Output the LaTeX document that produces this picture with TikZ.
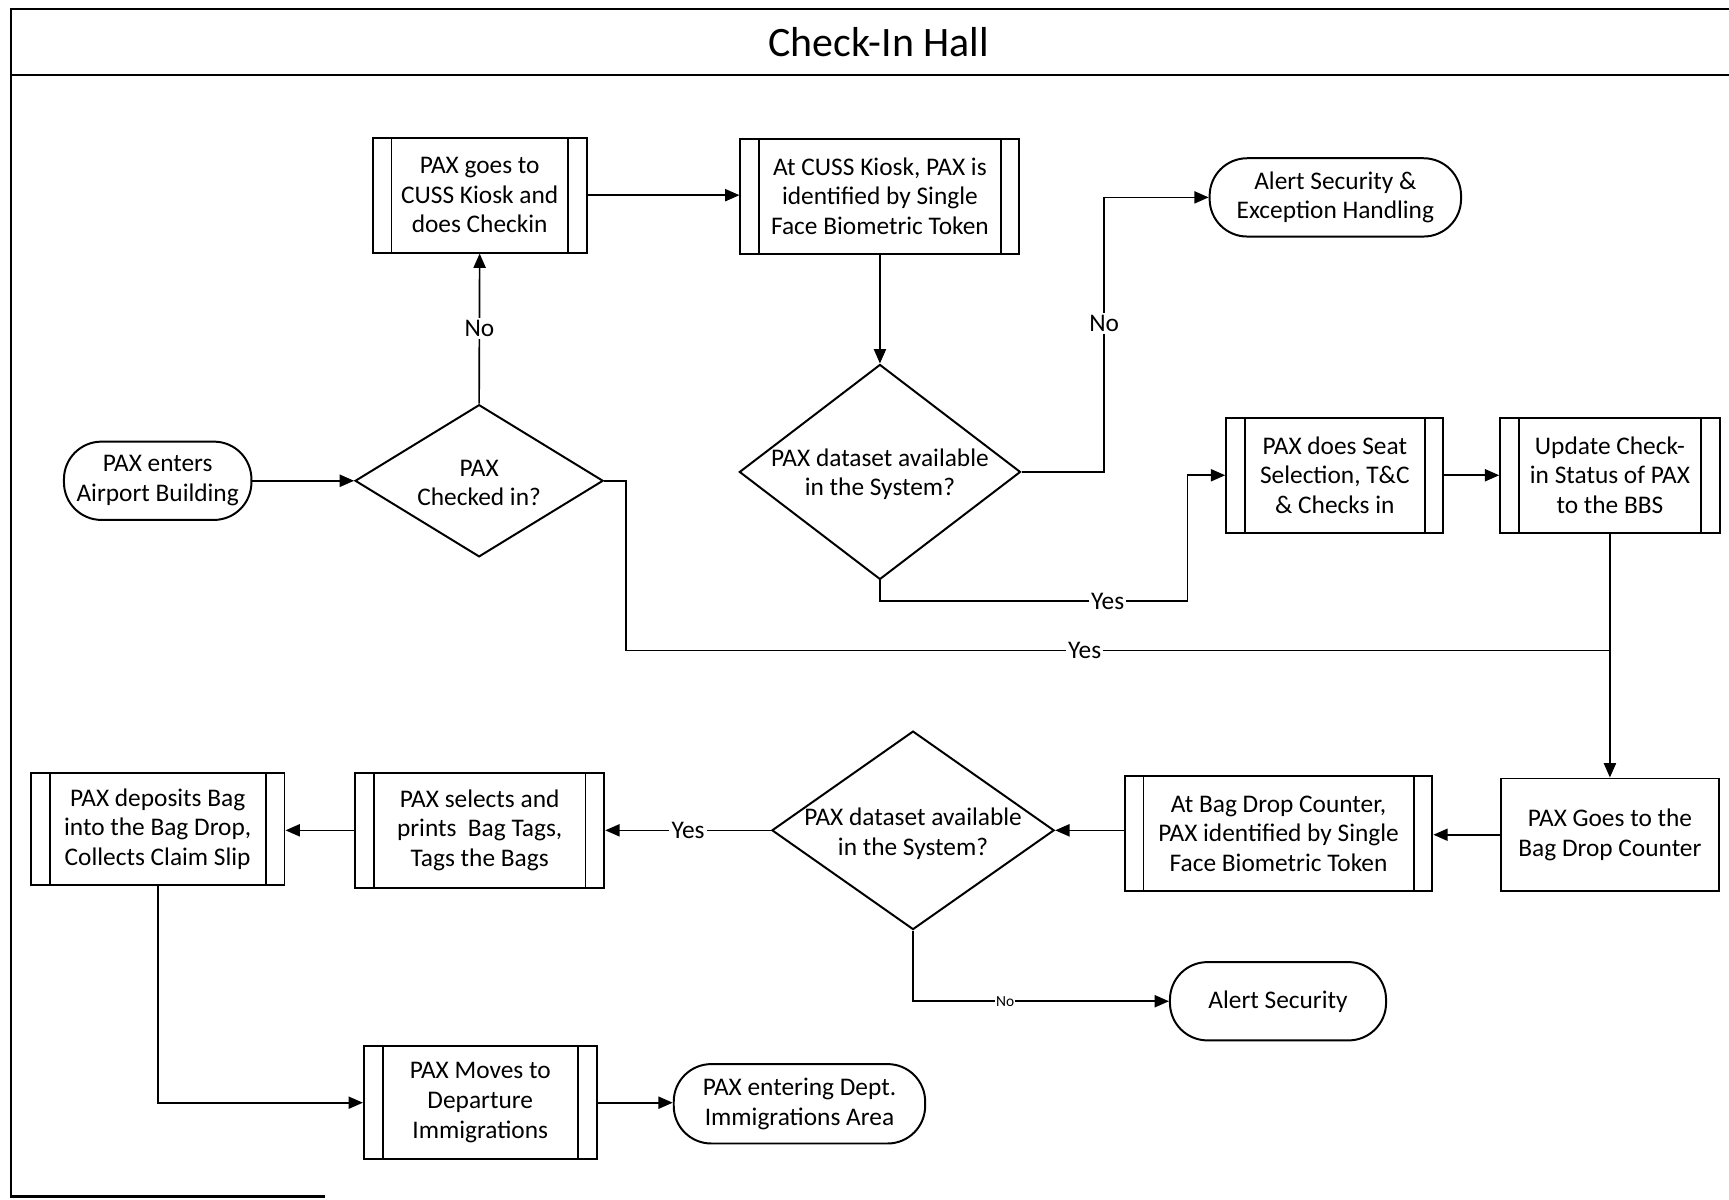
\documentclass[tikz,border=0pt]{standalone}
\usepackage{fontspec}
\setmainfont{Carlito}
\usetikzlibrary{arrows.meta,shapes.geometric,calc}

\begin{document}
\begin{tikzpicture}[x=0.5pt,y=-0.5pt,
  txt/.style={font=\fontsize{11.5}{13.5}\selectfont, align=center},
  base/.style={txt, draw, line width=0.9pt, inner sep=2pt, minimum height=52pt},
  proc/.style={base, rectangle,
    path picture={
      \draw[line width=0.8pt] ([xshift=8.5pt]path picture bounding box.north west) -- ([xshift=8.5pt]path picture bounding box.south west);
      \draw[line width=0.8pt] ([xshift=-8.5pt]path picture bounding box.north east) -- ([xshift=-8.5pt]path picture bounding box.south east);
    }},
  plainbox/.style={base, rectangle},
  term/.style={base, rectangle, rounded corners=17pt, minimum height=35.5pt},
  dec/.style={draw, diamond, line width=0.9pt, inner sep=0pt},
  dtext/.style={txt, inner sep=0pt},
  link/.style={line width=0.75pt},
  conn/.style={link, -{Triangle[length=6.5pt,width=5.5pt]}},
  lbl/.style={txt, fill=white, inner sep=1pt},
  lblsmall/.style={fill=white, inner sep=0.5pt, font=\fontsize{7}{8}\selectfont},
]
\useasboundingbox (0,0) rectangle (1568,1088);

% hall frame and title band
\draw[line width=1.1pt] (1568,8) -- (10,8) -- (10,1085) -- (295,1085);
\draw[line width=1.1pt] (10,68) -- (1568,68);
\node[font=\fontsize{19}{23}\selectfont] (title) at (797,38) {Check-In Hall};

% process steps
\node[proc, minimum width=97pt] (A) at (435,177) {PAX goes to\\CUSS Kiosk and\\does Checkin};
\node[proc, minimum width=126.5pt] (B) at (798,178) {At CUSS Kiosk, PAX is\\identified by Single\\Face Biometric Token};
\node[term, minimum width=114pt] (C) at (1211,179) {Alert Security \&\\Exception Handling};
\node[dec, minimum width=127.5pt, minimum height=97.5pt] (D) at (798,428) {};
\node[dtext] (Dt) at (798,430) {PAX dataset available\\in the System?};
\node[term, minimum width=85pt] (E) at (143,436) {PAX enters\\Airport Building};
\node[dec, minimum width=112.5pt, minimum height=69pt] (F) at (434.5,436) {};
\node[dtext] (Ft) at (434.5,438) {PAX\\Checked in?};
\node[proc, minimum width=98.5pt] (G) at (1210.5,431) {PAX does Seat\\Selection, T\&C\\\& Checks in};
\node[proc, minimum width=99.5pt] (H) at (1460,431) {Update Check-\\in Status of PAX\\to the BBS};
\node[plainbox, minimum width=99pt, minimum height=51pt] (I) at (1460,757) {PAX Goes to the\\Bag Drop Counter};
\node[proc, minimum width=139.5pt] (J) at (1159.5,756) {At Bag Drop Counter,\\PAX identified by Single\\Face Biometric Token};
\node[dec, minimum width=128pt, minimum height=90pt] (K) at (828,753) {};
\node[dtext] (Kt) at (828,756) {PAX dataset available\\in the System?};
\node[proc, minimum width=113pt] (L) at (435,753) {PAX selects and\\prints~~Bag Tags,\\Tags the Bags};
\node[proc, minimum width=115pt, minimum height=51pt] (M) at (143,752) {PAX deposits Bag\\into the Bag Drop,\\Collects Claim Slip};
\node[term, minimum width=98pt] (N) at (1159,908) {Alert Security};
\node[proc, minimum width=105.5pt, minimum height=51.5pt] (O) at (435.5,1000) {PAX Moves to\\Departure\\Immigrations};
\node[term, minimum width=114pt, minimum height=36pt] (P) at (725,1001) {PAX entering Dept.\\Immigrations Area};

% junction points of the orthogonal routes
\coordinate (dyes) at (1077,545);
\coordinate (yjoin) at (1460,590);

% connectors
\draw[conn] (E.east) -- (E.east -| F.west);
\draw[conn] (F.north) -- node[lbl]{No} (A.south);
\draw[conn] (A.east) -- (A.east -| B.west);
\draw[conn] (B.south) -- (D.north);
\draw[conn] (D.east) -- ++(75,0) |- node[lbl,pos=0.27]{No} (C.west);
\draw[conn] (D.south) |- node[lbl,pos=0.87]{Yes} (dyes) |- (G.west);
\draw[conn] (G.east) -- (G.east -| H.west);
\draw[conn] (H.south) -- (I.north);
\draw[link] (F.east) -- ++(20,0) |- node[lbl,pos=0.733]{Yes} (yjoin);
\draw[conn] (I.west) -- (I.west -| J.east);
\draw[conn] (K.east -| J.west) -- (K.east);
\draw[conn] (K.west) -- node[lbl]{Yes} (K.west -| L.east);
\draw[conn] (L.west) -- (L.west -| M.east);
\draw[conn] (M.south) |- (O.west);
\draw[conn] (K.south) |- node[lblsmall,pos=0.68]{No} (N.west);
\draw[conn] (O.east) -- (O.east -| P.west);
\end{tikzpicture}
\end{document}
